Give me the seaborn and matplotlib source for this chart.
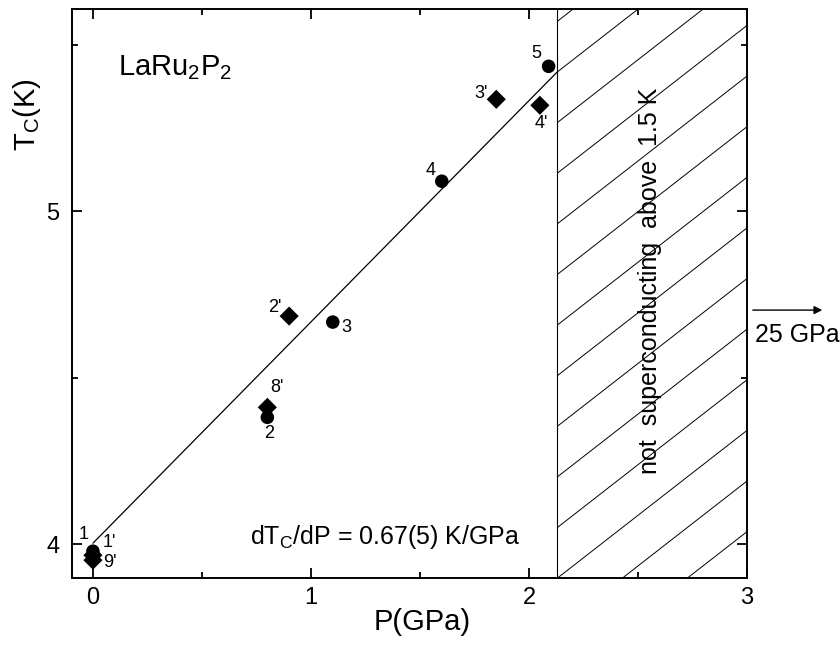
import numpy as np
import pandas as pd
import matplotlib
matplotlib.use("Agg")
import matplotlib.pyplot as plt
import seaborn as sns

circle_p = [0.0, 0.8, 1.1, 1.6, 2.09]
circle_t = [3.979, 4.381, 4.667, 5.090, 5.435]
circle_lbl = ["1", "2", "3", "4", "5"]

diamond_p = [0.0, 0.0, 0.9, 0.8, 1.85, 2.05]
diamond_t = [3.967, 3.952, 4.685, 4.411, 5.336, 5.318]
diamond_lbl = ["1'", "9'", "2'", "8'", "3'", "4'"]

# label offsets in points
circle_off = [(-7, 12), (1, -12), (10, -4), (-8, 8), (-9, 9)]
diamond_off = [(12, 9), (12, -2), (-10, 6), (7, 14), (-11, 4), (1, -13)]

# linear fit drawn in the reference
fit_p = [0.0, 2.128]
fit_t = [4.003, 5.417]

p_limit = 2.128  # start of the non-superconducting region

sns.set_theme(style="ticks")
plt.rcParams["font.family"] = ["Liberation Sans", "DejaVu Sans"]
plt.rcParams["mathtext.fontset"] = "custom"
plt.rcParams["mathtext.rm"] = "Liberation Sans"
plt.rcParams["mathtext.it"] = "Liberation Sans:italic"
plt.rcParams["text.color"] = "black"
plt.rcParams["axes.labelcolor"] = "black"

df = pd.DataFrame({
    "P": circle_p + diamond_p,
    "Tc": circle_t + diamond_t,
    "kind": ["circle"] * len(circle_p) + ["diamond"] * len(diamond_p),
})

fig = plt.figure(figsize=(8.4, 6.46), dpi=100)
ax = fig.add_axes([0.0857, 0.105, 0.8036, 0.881])

# fit line
sns.lineplot(x=fit_p, y=fit_t, ax=ax, color="black", lw=0.9, sort=False)

sns.scatterplot(data=df, x="P", y="Tc", style="kind", markers={"circle": "o", "diamond": "D"},
                color="black", s=95, edgecolor="black", linewidth=0, ax=ax, legend=False, zorder=3)

for p, t, lb, off in zip(circle_p, circle_t, circle_lbl, circle_off):
    ax.annotate(lb, (p, t), xytext=off, textcoords="offset points", ha="center", va="center", fontsize=13)
for p, t, lb, off in zip(diamond_p, diamond_t, diamond_lbl, diamond_off):
    ax.annotate(lb, (p, t), xytext=off, textcoords="offset points", ha="center", va="center", fontsize=13)

ax.set_xlim(-0.096, 3.0)
ax.set_ylim(3.898, 5.607)

# hatched region
ax.axvline(p_limit, color="black", lw=0.8)
rect = plt.Rectangle((p_limit, 3.898), 3.0 - p_limit, 5.607 - 3.898, transform=ax.transData,
                     facecolor="none", edgecolor="none")
ax.add_patch(rect)
hx = np.array([p_limit, 3.0])
for k in range(-12, 6):
    y0 = fit_t[1] + k * 0.152
    ln, = ax.plot(hx, y0 + 0.51 * (hx - p_limit), color="black", lw=0.7)
    ln.set_clip_path(rect)

ax.text(2.555, 4.79, "not  superconducting  above  1.5 K", rotation=90,
        ha="center", va="center", fontsize=18)
ax.text(1.96, 4.021, r"dT$_\mathregular{C}$/dP = 0.67(5) K/GPa", ha="right", va="center", fontsize=18)
ax.text(0.115, 5.408, r"LaRu$_\mathregular{2}$P$_\mathregular{2}$", ha="left", va="baseline", fontsize=21)

# arrow to 25 GPa outside the frame
ax.annotate("", xy=(3.358, 4.703), xytext=(3.014, 4.703), annotation_clip=False,
            arrowprops=dict(arrowstyle="-|>", color="black", lw=1, mutation_scale=12))
ax.text(3.037, 4.628, "25 GPa", ha="left", va="center", fontsize=18, clip_on=False)

ax.set_xticks([0, 1, 2, 3])
ax.set_xticks([0.5, 1.5, 2.5], minor=True)
ax.set_yticks([4, 5])
ax.set_yticks([4.5, 5.5], minor=True)
ax.tick_params(which="both", direction="in", top=True, right=True, width=1.3, colors="black")
ax.tick_params(which="major", length=7)
ax.tick_params(which="minor", length=4)
ax.tick_params(axis="x", labelsize=17, pad=6)
ax.tick_params(axis="y", labelsize=17, pad=9)
for sp in ax.spines.values():
    sp.set_linewidth(1.4)
    sp.set_color("black")
    sp.set_visible(True)

ax.set_xlabel("P(GPa)", fontsize=21)
ax.xaxis.set_label_coords(0.519, -0.053)
ax.set_ylabel(r"T$_\mathregular{C}$(K)", fontsize=21)
ax.yaxis.set_label_coords(-0.043, 0.815)

fig.savefig("out.png", dpi=100)
